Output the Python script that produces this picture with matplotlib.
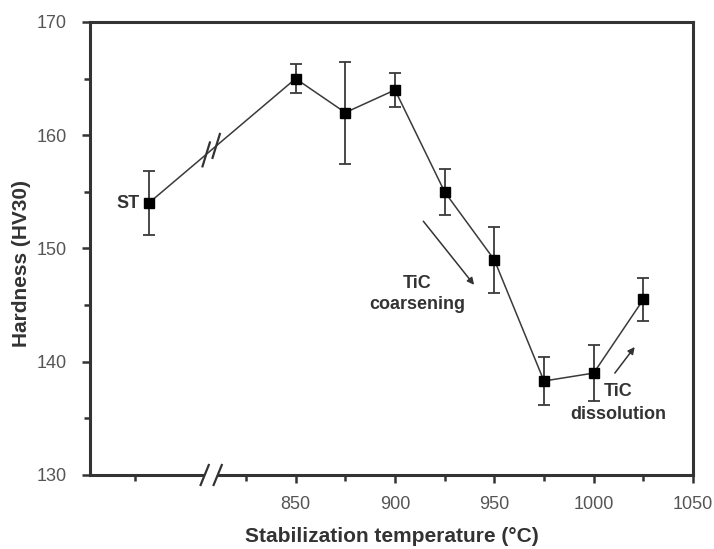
import matplotlib
matplotlib.use("Agg")
import matplotlib.pyplot as plt
import numpy as np

# ---- data ----
temps = [776, 850, 875, 900, 925, 950, 975, 1000, 1025]   # first = ST (as-received), placed left of axis break
hardness = [154.0, 165.0, 162.0, 164.0, 155.0, 149.0, 138.3, 139.0, 145.5]
errors = [2.8, 1.3, 4.5, 1.5, 2.0, 2.9, 2.1, 2.5, 1.9]
major_ticks = [850, 900, 950, 1000, 1050]
minor_ticks = [769, 825, 875, 925, 975, 1025]
break_x = 807.5

plt.rcParams['font.family'] = ['Liberation Sans', 'DejaVu Sans']
txt_col = '#333333'
tick_col = '#555555'

W, H = 714, 549
fig = plt.figure(figsize=(W/100, H/100), dpi=100)
ax_l, ax_r, ax_t, ax_b = 90, 693, 22, 475
ax = fig.add_axes([ax_l/W, 1-ax_b/H, (ax_r-ax_l)/W, (ax_b-ax_t)/H])

ax.errorbar(temps, hardness, yerr=errors, color='#3a3a3a', lw=1.1,
            marker='s', ms=6.5, mfc='black', mec='black',
            ecolor='#3a3a3a', elinewidth=1.3, capsize=4, capthick=1.3, zorder=3)

xlim = (746.5, 1050)
ylim = (130, 170)
ax.set_xlim(*xlim)
ax.set_ylim(*ylim)
ax.set_xticks(major_ticks)
ax.set_xticks(minor_ticks, minor=True)
ax.set_yticks([130, 140, 150, 160, 170])
ax.set_yticks([135, 145, 155, 165], minor=True)

for s in ax.spines.values():
    s.set_linewidth(2.2)
    s.set_color('#333333')
ax.tick_params(which='major', direction='out', length=6, width=1.8, colors='#333333',
               labelsize=13, labelcolor=tick_col)
ax.tick_params(axis='x', which='major', pad=9)
ax.tick_params(axis='y', which='major', pad=11)
ax.tick_params(which='minor', direction='out', length=4, width=1.8, colors='#333333')

ax.set_xlabel('Stabilization temperature (°C)', fontsize=15, fontweight='bold',
              color=txt_col, va='center')
ax.xaxis.set_label_coords(0.501, -0.136)
ax.set_ylabel('Hardness (HV30)', fontsize=15, fontweight='bold', color=txt_col, va='center')
ax.yaxis.set_label_coords(-0.113, 0.466)

# data units per pixel
ux = (xlim[1]-xlim[0]) / (ax_r-ax_l)
uy = (ylim[1]-ylim[0]) / (ax_b-ax_t)

def slash(xc, yc, hw=4.5, hh=11, clip=True):
    ax.plot([xc - hw*ux, xc + hw*ux], [yc - hh*uy, yc + hh*uy],
            color='#333333', lw=1.6, zorder=6, clip_on=clip, solid_capstyle='butt')

# break on the line
for off in (-5, 5):
    xc = break_x + off*ux
    slash(xc, np.interp(xc, temps[:2], hardness[:2]), hw=4, hh=13)
# break on the x axis
ax.plot([break_x - 6.5*ux, break_x + 6.5*ux], [ylim[0], ylim[0]], color='white',
        lw=4, zorder=5, clip_on=False, solid_capstyle='butt')
for off in (-6.5, 6.5):
    slash(break_x + off*ux, ylim[0], clip=False)

# annotations
ax.text(temps[0] - 4.5, hardness[0], 'ST', ha='right', va='center', fontsize=13,
        fontweight='bold', color=txt_col)
ax.text(911, 146.0, 'TiC\ncoarsening', ha='center', va='center', fontsize=13,
        fontweight='bold', color=txt_col, linespacing=1.35)
ax.annotate('', xy=(940.7, 146.6), xytext=(913.4, 152.6),
            arrowprops=dict(arrowstyle='-|>', color='#333333', lw=1.1, mutation_scale=10))
ax.text(1012.3, 136.35, 'TiC\ndissolution', ha='center', va='center', fontsize=13,
        fontweight='bold', color=txt_col, linespacing=1.4)
ax.annotate('', xy=(1021.5, 141.5), xytext=(1009.8, 138.8),
            arrowprops=dict(arrowstyle='-|>', color='#333333', lw=1.1, mutation_scale=10))

fig.savefig('out.png', dpi=100)
